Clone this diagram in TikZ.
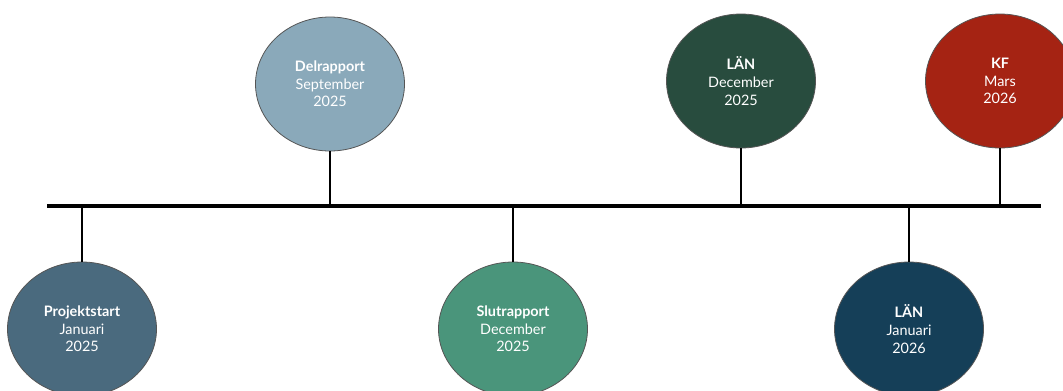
\documentclass[tikz,border=0pt]{standalone}
\usepackage{fontspec}
\setmainfont{Lato}
\usetikzlibrary{shapes.geometric}
\definecolor{cProj}{HTML}{4A6A7E}
\definecolor{cDel}{HTML}{8AA9BA}
\definecolor{cSlut}{HTML}{4A957B}
\definecolor{cLanD}{HTML}{284C3E}
\definecolor{cKF}{HTML}{A52313}
\definecolor{cLanJ}{HTML}{153F58}
\definecolor{cEdge}{HTML}{555555}
\tikzset{
  event/.style={ellipse, draw=cEdge, line width=0.6pt, minimum width=149*0.75pt, minimum height=134*0.75pt,
    inner sep=0pt, text=white, align=center, font=\fontsize{10.8}{13.2}\selectfont},
  axis/.style={line width=2.3pt, black},
  stem/.style={line width=1.5pt, black},
}
\begin{document}
\begin{tikzpicture}[x=0.75pt,y=-0.75pt]
\useasboundingbox (0,0) rectangle (1063,390);
\coordinate (L) at (47,206);
\coordinate (R) at (1041,206);
\draw[axis] (L) -- (R);
\node[event, fill=cProj] (proj) at (82,329) {\textbf{Projektstart}\\Januari\\2025};
\node[event, fill=cDel] (del) at (330,84) {\textbf{Delrapport}\\September\\2025};
\node[event, fill=cSlut] (slut) at (513,329) {\textbf{Slutrapport}\\December\\2025};
\node[event, fill=cLanD] (land) at (741,81) {\textbf{LÄN}\\December\\2025};
\node[event, fill=cKF] (kf) at (1000,81) {\textbf{KF}\\Mars\\2026};
\node[event, fill=cLanJ] (lanj) at (909,329) {\textbf{LÄN}\\Januari\\2026};
\coordinate (t1) at (82,206);
\coordinate (t2) at (330,206);
\coordinate (t3) at (513,206);
\coordinate (t4) at (741,206);
\coordinate (t5) at (909,206);
\coordinate (t6) at (1000,206);
\draw[stem] (t1) -- (proj.north);
\draw[stem] (t2) -- (del.south);
\draw[stem] (t3) -- (slut.north);
\draw[stem] (t4) -- (land.south);
\draw[stem] (t5) -- (lanj.north);
\draw[stem] (t6) -- (kf.south);
\end{tikzpicture}
\end{document}
